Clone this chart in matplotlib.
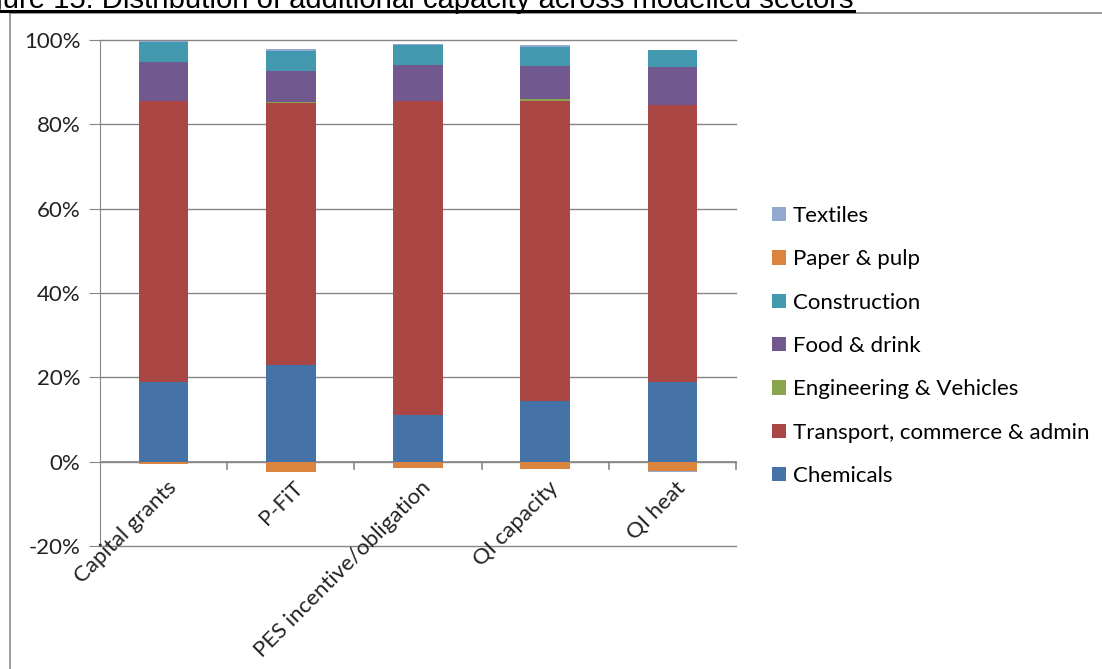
import numpy as np
import matplotlib.pyplot as plt
from matplotlib.lines import Line2D
from matplotlib.ticker import FuncFormatter

# Share of additional capacity by sector (%), one value per scheme
schemes = ['Capital grants', 'P-FiT', 'PES incentive/obligation', 'QI capacity', 'QI heat']
chemicals = [19.0, 23.0, 11.1, 14.3, 18.8]
transport = [66.5, 62.0, 74.4, 71.3, 65.7]
engineering = [0.0, 0.4, 0.1, 0.4, 0.1]
food_drink = [9.3, 7.2, 8.4, 7.9, 9.0]
construction = [4.7, 4.9, 4.7, 4.5, 4.1]
paper_pulp = [-0.6, -2.45, -1.4, -1.65, -2.3]
textiles = [0.3, 0.3, 0.3, 0.3, -0.2]

series = [
    ('Chemicals', chemicals, '#4572A7'),
    ('Transport, commerce & admin', transport, '#AA4643'),
    ('Engineering & Vehicles', engineering, '#89A54E'),
    ('Food & drink', food_drink, '#71588F'),
    ('Construction', construction, '#4198AF'),
    ('Paper & pulp', paper_pulp, '#DB843D'),
    ('Textiles', textiles, '#93A9CF'),
]

W, H = 1102, 669
fig = plt.figure(figsize=(W / 100, H / 100), dpi=100)
ax = fig.add_axes([100 / W, (H - 546) / H, 636 / W, 506 / H])

x = np.arange(len(schemes))
pos_base = np.zeros(len(schemes))
neg_base = np.zeros(len(schemes))
handles = []
for name, vals, col in series:
    v = np.array(vals) / 100.0
    bottom = np.where(v >= 0, pos_base, neg_base)
    b = ax.bar(x, v, width=0.39, bottom=bottom, color=col, label=name, zorder=3)
    handles.append(b)
    pos_base += np.where(v >= 0, v, 0)
    neg_base += np.where(v < 0, v, 0)

gray = '#868686'
ax.set_xlim(-0.5, len(schemes) - 0.5)
ax.set_ylim(-0.2, 1.0)
ax.set_yticks(np.arange(-0.2, 1.01, 0.2))
ax.yaxis.set_major_formatter(FuncFormatter(lambda v, p: f'{v * 100:.0f}%'))
ax.grid(axis='y', color=gray, lw=1.0, zorder=0)
for gl in ax.get_ygridlines():
    gl.set_clip_on(False)
for s in ['top', 'right', 'bottom']:
    ax.spines[s].set_visible(False)
ax.spines['left'].set_color(gray)
ax.tick_params(axis='y', length=8, color=gray, pad=6, labelsize=16, labelcolor='#222222')

# category axis drawn along the 0% line, ticks between groups
ax.axhline(0, color=gray, lw=1.2, zorder=2)
ax.set_xticks([])
for b in np.arange(-0.5, len(schemes), 1.0)[1:]:
    ax.plot([b, b], [0, -0.017], color=gray, lw=1.2, clip_on=False, zorder=2)
for i, lab in enumerate(schemes):
    ax.text(i + 0.02, -0.038, lab, rotation=45, rotation_mode='anchor',
            ha='right', va='top', fontsize=16, color='#222222', family='Lato')

for lab in ax.get_yticklabels():
    lab.set_family('Lato')

leg = fig.legend(handles[::-1], [s[0] for s in series][::-1],
                 loc='upper left', bbox_to_anchor=(752 / W, 1 - 186 / H),
                 frameon=False, prop={'family': 'Lato', 'size': 16},
                 handlelength=0.63, handleheight=0.63, handletextpad=0.3,
                 labelspacing=1.05)

# outer chart frame
fig.add_artist(Line2D([10 / W, 1.0], [1 - 12.7 / H, 1 - 12.7 / H], color='#7f7f7f', lw=1.1))
fig.add_artist(Line2D([10 / W, 10 / W], [0, 1 - 12.7 / H], color='#7f7f7f', lw=1.1))

# caption above the chart, underlined
fig.text(854 / W, 1 - 8 / H, 'Figure 15: Distribution of additional capacity across modelled sectors',
         ha='right', va='baseline', fontsize=21.1, family='Liberation Sans', color='black')
fig.add_artist(Line2D([0, 854 / W], [1 - 10.5 / H, 1 - 10.5 / H], color='black', lw=2.2))

fig.savefig('out.png', dpi=100)
